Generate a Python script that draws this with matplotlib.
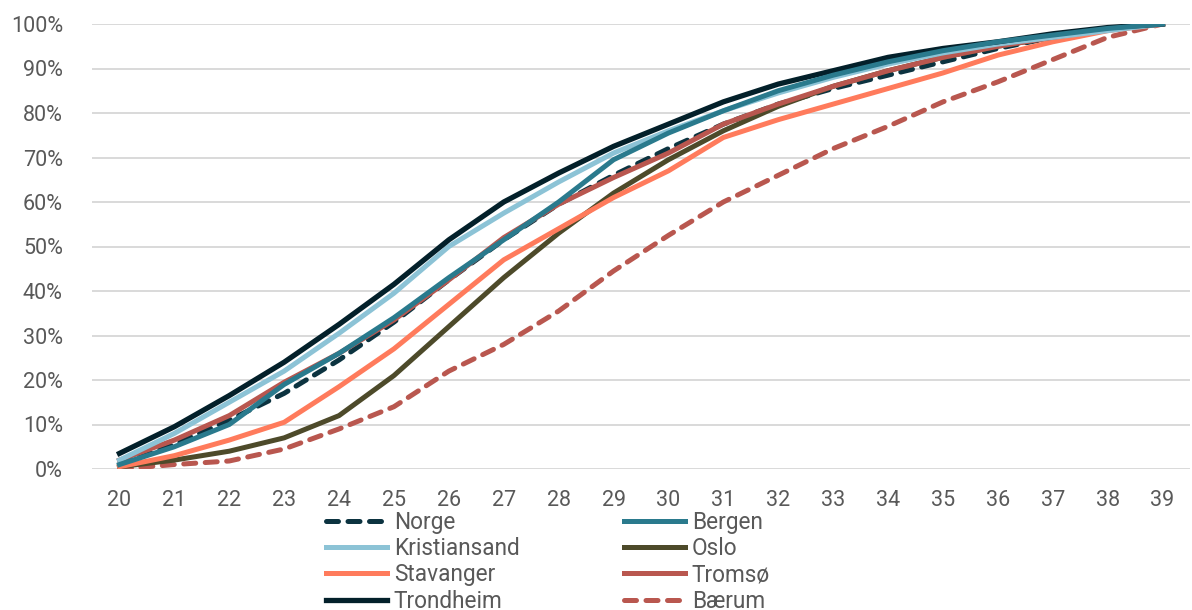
import matplotlib
matplotlib.use("Agg")
import matplotlib.pyplot as plt
from matplotlib.ticker import PercentFormatter

plt.rcParams["font.family"] = ["Roboto", "DejaVu Sans"]

# Age on the x axis
ages = list(range(20, 40))

# Cumulative share (%) per area
norge = [1, 5.5, 11, 17, 24.5, 33, 42.5, 51.5, 59.5, 66, 72, 77.5, 82, 85.5, 88.5, 91.5, 94.5, 97, 99, 100]
bergen = [1, 5, 10, 19, 26, 34, 43, 51.5, 60, 69.5, 75.5, 80.5, 85, 88.5, 91.5, 94, 96, 97.5, 99, 100]
kristiansand = [2, 8, 15, 22, 30.5, 39.5, 50, 57.5, 64.5, 71, 76, 80.5, 84.5, 88, 91, 93.5, 95.5, 97, 98.5, 100]
oslo = [0.5, 2, 4, 7, 12, 21, 32, 43, 53, 62, 69.5, 76, 81.5, 86, 89.5, 92.5, 95, 97, 98.8, 100]
stavanger = [0.5, 3, 6.5, 10.5, 18.5, 27, 37, 47, 54, 61, 67, 74.5, 78.5, 82, 85.5, 89, 93, 96, 98.5, 100]
tromso = [2, 6.5, 12, 19.5, 26, 33.5, 42.5, 52, 59.5, 65.5, 71, 77.5, 82, 86, 89.5, 92.5, 95, 97, 98.8, 100]
trondheim = [3.5, 9.5, 16.5, 24, 32.5, 41.5, 51.5, 60, 66.5, 72.5, 77.5, 82.5, 86.5, 89.5, 92.5, 94.5, 96, 97.8, 99.2, 100]
baerum = [0, 1, 1.8, 4.5, 9, 14, 22, 28, 35.5, 44.5, 52.5, 60, 66, 72, 77, 82.5, 87, 92, 97, 100]

grey = "#595959"
dash = (2.4, 1.9)

fig = plt.figure(figsize=(11.92, 6.10), dpi=100)
ax = fig.add_axes([92 / 1192, 1 - 469 / 610, (1190 - 92) / 1192, (469 - 24) / 610])

lines = {}
lines["Norge"], = ax.plot(ages, norge, color="#0c3340", lw=3.6, dashes=dash,
                          dash_capstyle="round", label="Norge")
lines["Bærum"], = ax.plot(ages, baerum, color="#b9574f", lw=3.6, dashes=dash,
                          dash_capstyle="round", label="Bærum")
lines["Oslo"], = ax.plot(ages, oslo, color="#4d4a2a", lw=3.6, label="Oslo")
lines["Stavanger"], = ax.plot(ages, stavanger, color="#ff7b5c", lw=3.6, label="Stavanger")
lines["Tromsø"], = ax.plot(ages, tromso, color="#b9574f", lw=3.6, label="Tromsø")
lines["Kristiansand"], = ax.plot(ages, kristiansand, color="#8cc3d6", lw=3.6, label="Kristiansand")
lines["Trondheim"], = ax.plot(ages, trondheim, color="#03202a", lw=3.8, label="Trondheim")
lines["Bergen"], = ax.plot(ages, bergen, color="#2a7a8d", lw=3.6, label="Bergen")

ax.set_xlim(19.5, 39.5)
ax.set_ylim(0, 100)
ax.set_xticks(ages)
ax.set_yticks(range(0, 101, 10))
ax.yaxis.set_major_formatter(PercentFormatter(decimals=0))
ax.grid(axis="y", color="#d9d9d9", lw=1.4)
ax.set_axisbelow(True)
for s in ax.spines.values():
    s.set_visible(False)
ax.tick_params(length=0, labelsize=15.5, labelcolor=grey)
ax.tick_params(axis="x", pad=15)
ax.tick_params(axis="y", pad=21)

# legend in two columns, filled column by column
order = ["Norge", "Kristiansand", "Stavanger", "Trondheim",
         "Bergen", "Oslo", "Tromsø", "Bærum"]
leg = ax.legend([lines[k] for k in order], order, ncol=2, loc="upper left",
                bbox_to_anchor=(326 / 1192, 1 - 511 / 610),
                bbox_transform=fig.transFigure, frameon=False, fontsize=16.3,
                handlelength=2.7, handletextpad=0.3, columnspacing=4.6,
                labelspacing=0.14, borderpad=0, borderaxespad=0)
for t in leg.get_texts():
    t.set_color(grey)

fig.savefig("out.png", dpi=100)
